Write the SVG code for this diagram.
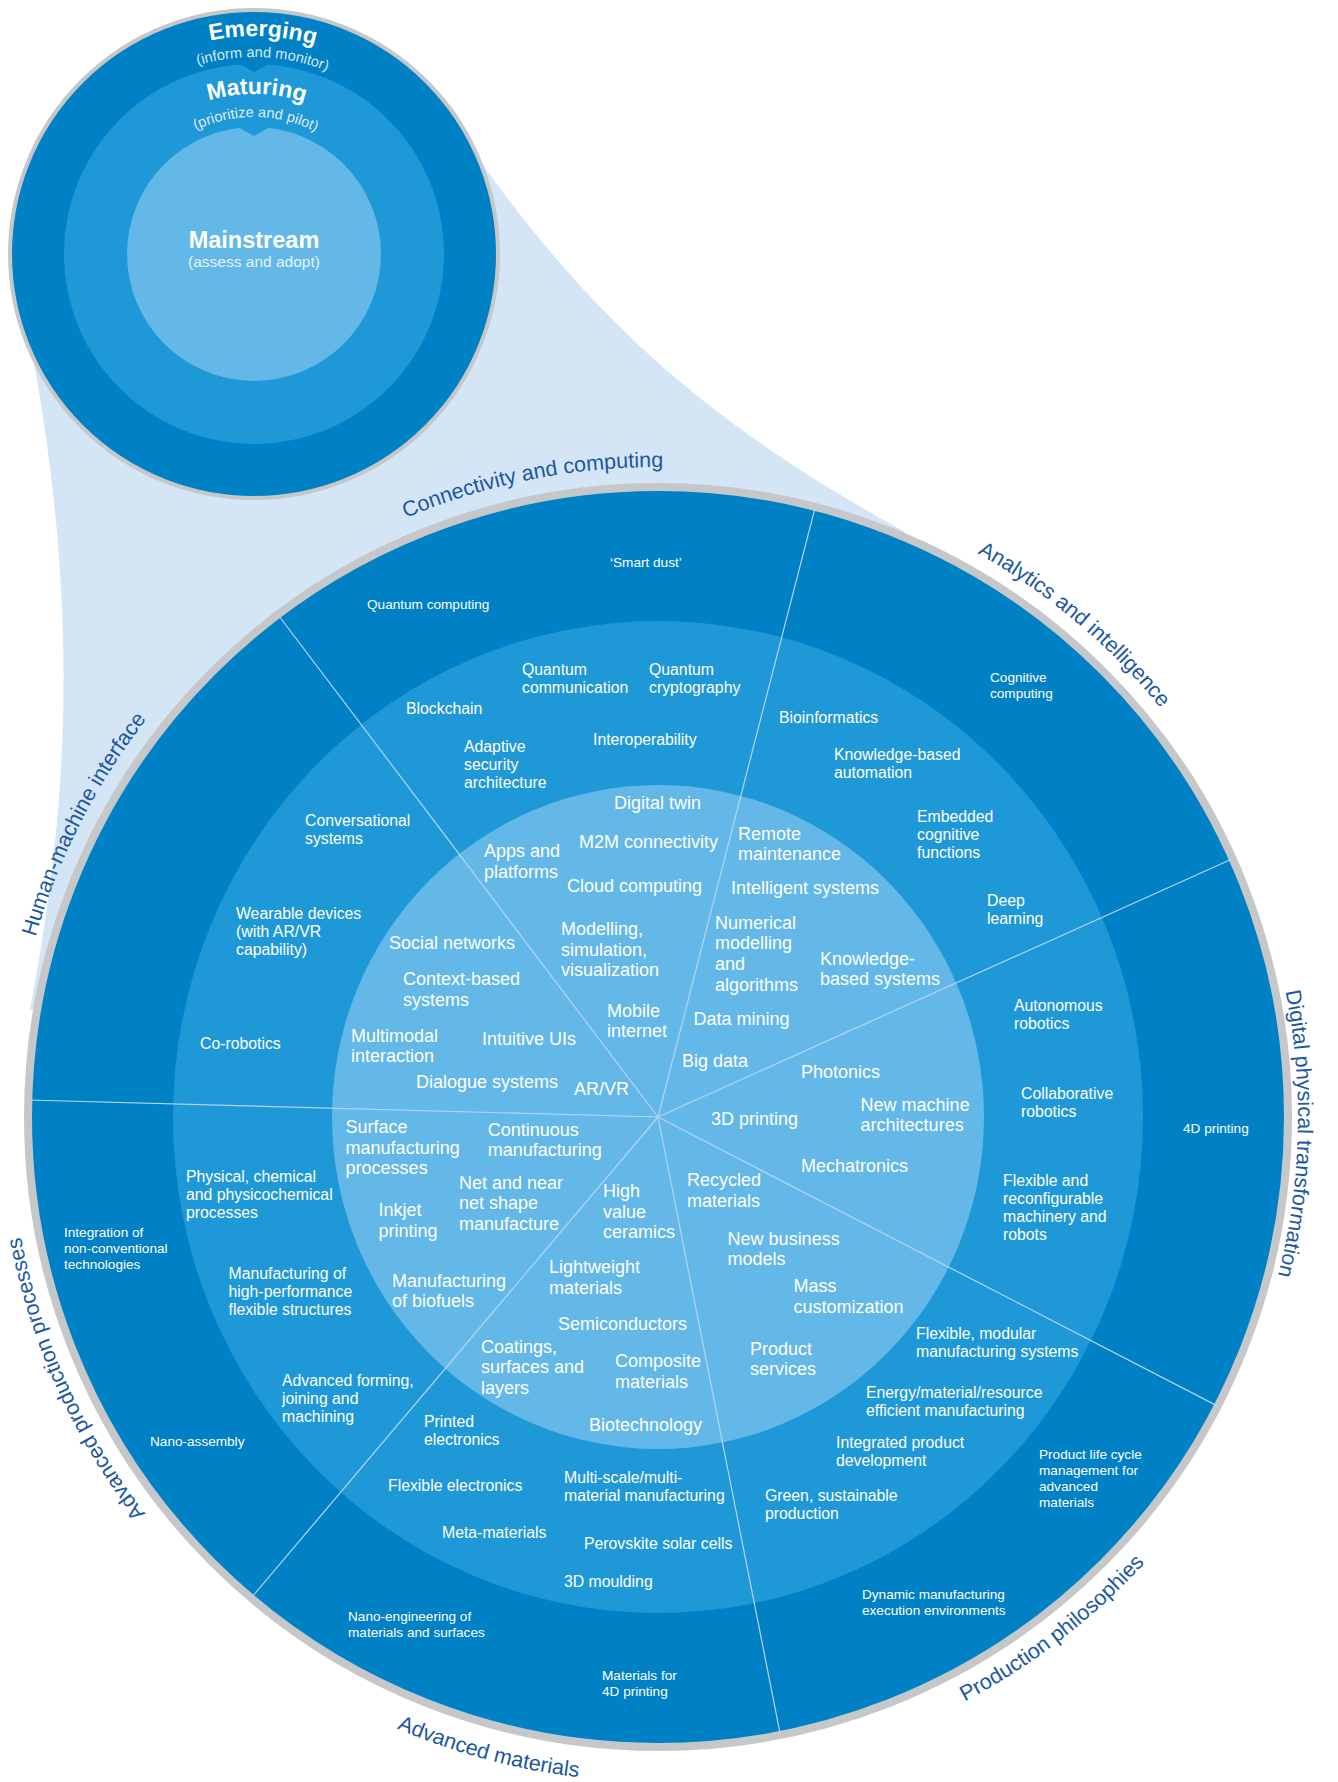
<svg xmlns="http://www.w3.org/2000/svg" xmlns:xlink="http://www.w3.org/1999/xlink" width="1338" height="1782" viewBox="0 0 1338 1782">
<style>
text{font-family:"Liberation Sans",Arial,sans-serif;fill:#fff}
.o{font-size:13.6px}
.m{font-size:15.8px}
.i{font-size:18px}
.lbl{font-size:21.5px;fill:#1b57a2}
.hd{font-size:23px;font-weight:bold}
.sub{font-size:14.6px;fill-opacity:0.85}
.div{stroke:#b4d5ef;stroke-width:1.2;fill:none}
</style>
<defs>
<path id="pConn" d="M15.7,1017.5 A650,650 0 0 1 1214,780.3"/>
<path id="pAna" d="M336,554.7 A648,648 0 0 1 1266.1,1340.8"/>
<path id="pDig" d="M892.5,521.6 A640,640 0 0 1 861,1724"/>
<path id="pProd" d="M304.4,1674.3 A660,660 0 0 0 1287.1,917.4"/>
<path id="pMat" d="M-4.5,1175 A665,665 0 0 0 1202.7,1498.4"/>
<path id="pApp" d="M705.5,1763.3 A648,648 0 0 1 206.2,652.4"/>
<path id="pHmi" d="M184.1,1558.9 A648,648 0 0 1 737,473.8"/>
<path id="pEm" d="M36,254 A218,218 0 0 1 472,254"/>
<path id="pEmS" d="M57,254 A197,197 0 0 1 451,254"/>
<path id="pMa" d="M94,254 A160,160 0 0 1 414,254"/>
<path id="pMaS" d="M117,254 A137,137 0 0 1 391,254"/>
</defs>

<g id="funnel">
<path d="M478,158 C600,330 720,430 905,532 L658,1117 L30,1010 C70,800 80,600 28,330 Z" fill="#d4e5f5"/>
</g>

<g id="radar">
<circle cx="658" cy="1117" r="630" fill="#0080c5" stroke="#c6c7c9" stroke-width="8"/>
<ellipse cx="658" cy="1117" rx="485" ry="496" fill="#1f98d7"/>
<ellipse cx="658" cy="1117" rx="326" ry="332" fill="#63b8e8"/>
</g>

<g id="connectors">
<line class="div" x1="658" y1="1117" x2="815.3" y2="507"/>
<line class="div" x1="658" y1="1117" x2="277.9" y2="614.5"/>
<line class="div" x1="658" y1="1117" x2="1232.5" y2="858.7"/>
<line class="div" x1="658" y1="1117" x2="28.2" y2="1100"/>
<line class="div" x1="658" y1="1117" x2="1217.7" y2="1406.1"/>
<line class="div" x1="658" y1="1117" x2="251.2" y2="1598"/>
<line class="div" x1="658" y1="1117" x2="780.4" y2="1735"/>
</g>

<g id="sector-labels">
<text id="lbl-conn" class="lbl"><textPath href="#pConn" xlink:href="#pConn" startOffset="50%" text-anchor="middle">Connectivity and computing</textPath></text>
<text id="lbl-ana" class="lbl"><textPath href="#pAna" xlink:href="#pAna" startOffset="50%" text-anchor="middle">Analytics and intelligence</textPath></text>
<text id="lbl-dig" class="lbl"><textPath href="#pDig" xlink:href="#pDig" startOffset="50%" text-anchor="middle">Digital physical transformation</textPath></text>
<text id="lbl-prod" class="lbl"><textPath href="#pProd" xlink:href="#pProd" startOffset="50%" text-anchor="middle">Production philosophies</textPath></text>
<text id="lbl-mat" class="lbl"><textPath href="#pMat" xlink:href="#pMat" startOffset="50%" text-anchor="middle">Advanced materials</textPath></text>
<text id="lbl-app" class="lbl"><textPath href="#pApp" xlink:href="#pApp" startOffset="50%" text-anchor="middle">Advanced production processes</textPath></text>
<text id="lbl-hmi" class="lbl"><textPath href="#pHmi" xlink:href="#pHmi" startOffset="50%" text-anchor="middle">Human-machine interface</textPath></text>
</g>

<g id="emerging-items">
<g id="n-quantum-computing"><text class="o" x="367" y="609">Quantum computing</text></g>
<g id="n-smart-dust"><text class="o" x="610" y="567">‘Smart dust’</text></g>
<g id="n-cognitive"><text class="o" x="990" y="682">Cognitive<tspan x="990" dy="16">computing</tspan></text></g>
<g id="n-4d-printing"><text class="o" x="1183" y="1133">4D printing</text></g>
<g id="n-plm"><text class="o" x="1039" y="1459">Product life cycle<tspan x="1039" dy="16">management for</tspan><tspan x="1039" dy="16">advanced</tspan><tspan x="1039" dy="16">materials</tspan></text></g>
<g id="n-dynamic"><text class="o" x="862" y="1599">Dynamic manufacturing<tspan x="862" dy="16">execution environments</tspan></text></g>
<g id="n-mat4d"><text class="o" x="602" y="1680">Materials for<tspan x="602" dy="16">4D printing</tspan></text></g>
<g id="n-nano-eng"><text class="o" x="348" y="1621">Nano-engineering of<tspan x="348" dy="16">materials and surfaces</tspan></text></g>
<g id="n-nano-assembly"><text class="o" x="150" y="1446">Nano-assembly</text></g>
<g id="n-integration"><text class="o" x="64" y="1237">Integration of<tspan x="64" dy="16">non-conventional</tspan><tspan x="64" dy="16">technologies</tspan></text></g>
</g>

<g id="maturing-items">
<g id="n-q-comm"><text class="m" x="522" y="675">Quantum<tspan x="522" dy="18.2">communication</tspan></text></g>
<g id="n-q-crypt"><text class="m" x="649" y="675">Quantum<tspan x="649" dy="18.2">cryptography</tspan></text></g>
<g id="n-blockchain"><text class="m" x="406" y="714">Blockchain</text></g>
<g id="n-interop"><text class="m" x="593" y="744.5">Interoperability</text></g>
<g id="n-adaptive"><text class="m" x="464" y="752">Adaptive<tspan x="464" dy="18.2">security</tspan><tspan x="464" dy="18.2">architecture</tspan></text></g>
<g id="n-bioinf"><text class="m" x="779" y="722.5">Bioinformatics</text></g>
<g id="n-kb-auto"><text class="m" x="834" y="759.5">Knowledge-based<tspan x="834" dy="18.2">automation</tspan></text></g>
<g id="n-embedded"><text class="m" x="917" y="821.5">Embedded<tspan x="917" dy="18.2">cognitive</tspan><tspan x="917" dy="18.2">functions</tspan></text></g>
<g id="n-deep"><text class="m" x="987" y="905.5">Deep<tspan x="987" dy="18.2">learning</tspan></text></g>
<g id="n-conversational"><text class="m" x="305" y="825.5">Conversational<tspan x="305" dy="18.2">systems</tspan></text></g>
<g id="n-wearable"><text class="m" x="236" y="919">Wearable devices<tspan x="236" dy="18.2">(with AR/VR</tspan><tspan x="236" dy="18.2">capability)</tspan></text></g>
<g id="n-corobotics"><text class="m" x="200" y="1049">Co-robotics</text></g>
<g id="n-autonomous"><text class="m" x="1014" y="1010.5">Autonomous<tspan x="1014" dy="18.2">robotics</tspan></text></g>
<g id="n-collaborative"><text class="m" x="1021" y="1099">Collaborative<tspan x="1021" dy="18.2">robotics</tspan></text></g>
<g id="n-flex-reconf"><text class="m" x="1003" y="1185.5">Flexible and<tspan x="1003" dy="18.2">reconfigurable</tspan><tspan x="1003" dy="18.2">machinery and</tspan><tspan x="1003" dy="18.2">robots</tspan></text></g>
<g id="n-flex-modular"><text class="m" x="916" y="1339">Flexible, modular<tspan x="916" dy="18.2">manufacturing systems</tspan></text></g>
<g id="n-energy"><text class="m" x="866" y="1398">Energy/material/resource<tspan x="866" dy="18.2">efficient manufacturing</tspan></text></g>
<g id="n-ipd"><text class="m" x="836" y="1448">Integrated product<tspan x="836" dy="18.2">development</tspan></text></g>
<g id="n-green"><text class="m" x="765" y="1500.5">Green, sustainable<tspan x="765" dy="18.2">production</tspan></text></g>
<g id="n-multiscale"><text class="m" x="564" y="1483">Multi-scale/multi-<tspan x="564" dy="18.2">material manufacturing</tspan></text></g>
<g id="n-perovskite"><text class="m" x="584" y="1549">Perovskite solar cells</text></g>
<g id="n-moulding"><text class="m" x="564" y="1587">3D moulding</text></g>
<g id="n-meta"><text class="m" x="442" y="1538">Meta-materials</text></g>
<g id="n-flex-elec"><text class="m" x="388" y="1491">Flexible electronics</text></g>
<g id="n-printed"><text class="m" x="424" y="1426.5">Printed<tspan x="424" dy="18.2">electronics</tspan></text></g>
<g id="n-forming"><text class="m" x="282" y="1385.5">Advanced forming,<tspan x="282" dy="18.2">joining and</tspan><tspan x="282" dy="18.2">machining</tspan></text></g>
<g id="n-hpfs"><text class="m" x="228.5" y="1279">Manufacturing of<tspan x="228.5" dy="18.2">high-performance</tspan><tspan x="228.5" dy="18.2">flexible structures</tspan></text></g>
<g id="n-physical"><text class="m" x="186" y="1182">Physical, chemical<tspan x="186" dy="18.2">and physicochemical</tspan><tspan x="186" dy="18.2">processes</tspan></text></g>
</g>

<g id="mainstream-items">
<g id="n-digital-twin"><text class="i" x="614" y="809">Digital twin</text></g>
<g id="n-apps"><text class="i" x="484" y="857">Apps and<tspan x="484" dy="20.5">platforms</tspan></text></g>
<g id="n-m2m"><text class="i" x="579" y="847.5">M2M connectivity</text></g>
<g id="n-cloud"><text class="i" x="567" y="891.5">Cloud computing</text></g>
<g id="n-remote"><text class="i" x="738" y="839.8">Remote<tspan x="738" dy="20.5">maintenance</tspan></text></g>
<g id="n-intelligent"><text class="i" x="731" y="894.3">Intelligent systems</text></g>
<g id="n-numerical"><text class="i" x="715" y="928.5">Numerical<tspan x="715" dy="20.8">modelling</tspan><tspan x="715" dy="20.8">and</tspan><tspan x="715" dy="20.8">algorithms</tspan></text></g>
<g id="n-kb-systems"><text class="i" x="820" y="964.8">Knowledge-<tspan x="820" dy="20.5">based systems</tspan></text></g>
<g id="n-modelling"><text class="i" x="561" y="935">Modelling,<tspan x="561" dy="20.5">simulation,</tspan><tspan x="561" dy="20.5">visualization</tspan></text></g>
<g id="n-social"><text class="i" x="389" y="949">Social networks</text></g>
<g id="n-context"><text class="i" x="403" y="985">Context-based<tspan x="403" dy="20.5">systems</tspan></text></g>
<g id="n-mobile"><text class="i" x="607" y="1016.5">Mobile<tspan x="607" dy="20.5">internet</tspan></text></g>
<g id="n-multimodal"><text class="i" x="351" y="1041.5">Multimodal<tspan x="351" dy="20.5">interaction</tspan></text></g>
<g id="n-intuitive"><text class="i" x="482" y="1045">Intuitive UIs</text></g>
<g id="n-dialogue"><text class="i" x="416" y="1088.3">Dialogue systems</text></g>
<g id="n-arvr"><text class="i" x="574" y="1095">AR/VR</text></g>
<g id="n-data-mining"><text class="i" x="693.5" y="1025">Data mining</text></g>
<g id="n-big-data"><text class="i" x="682" y="1067">Big data</text></g>
<g id="n-photonics"><text class="i" x="801" y="1077.5">Photonics</text></g>
<g id="n-3d-printing"><text class="i" x="711" y="1124.5">3D printing</text></g>
<g id="n-new-machine"><text class="i" x="860.6" y="1110.5">New machine<tspan x="860.6" dy="20.5">architectures</tspan></text></g>
<g id="n-mechatronics"><text class="i" x="801" y="1171.7">Mechatronics</text></g>
<g id="n-surface"><text class="i" x="345.6" y="1133">Surface<tspan x="345.6" dy="20.5">manufacturing</tspan><tspan x="345.6" dy="20.5">processes</tspan></text></g>
<g id="n-continuous"><text class="i" x="487.7" y="1135.5">Continuous<tspan x="487.7" dy="20.5">manufacturing</tspan></text></g>
<g id="n-net"><text class="i" x="459" y="1188.7">Net and near<tspan x="459" dy="20.5">net shape</tspan><tspan x="459" dy="20.5">manufacture</tspan></text></g>
<g id="n-inkjet"><text class="i" x="378.5" y="1216">Inkjet<tspan x="378.5" dy="20.5">printing</tspan></text></g>
<g id="n-high"><text class="i" x="603" y="1197">High<tspan x="603" dy="20.5">value</tspan><tspan x="603" dy="20.5">ceramics</tspan></text></g>
<g id="n-recycled"><text class="i" x="687" y="1186">Recycled<tspan x="687" dy="20.5">materials</tspan></text></g>
<g id="n-new-business"><text class="i" x="727.6" y="1244.5">New business<tspan x="727.6" dy="20.5">models</tspan></text></g>
<g id="n-mass"><text class="i" x="793.5" y="1292">Mass<tspan x="793.5" dy="20.5">customization</tspan></text></g>
<g id="n-lightweight"><text class="i" x="549" y="1273">Lightweight<tspan x="549" dy="20.5">materials</tspan></text></g>
<g id="n-biofuels"><text class="i" x="392" y="1286.5">Manufacturing<tspan x="392" dy="20.5">of biofuels</tspan></text></g>
<g id="n-semiconductors"><text class="i" x="558" y="1329.7">Semiconductors</text></g>
<g id="n-coatings"><text class="i" x="481" y="1352.5">Coatings,<tspan x="481" dy="20.5">surfaces and</tspan><tspan x="481" dy="20.5">layers</tspan></text></g>
<g id="n-composite"><text class="i" x="615" y="1367">Composite<tspan x="615" dy="20.5">materials</tspan></text></g>
<g id="n-product-services"><text class="i" x="750" y="1354.8">Product<tspan x="750" dy="20.5">services</tspan></text></g>
<g id="n-biotech"><text class="i" x="589" y="1431">Biotechnology</text></g>
</g>

<g id="legend">
<circle cx="254" cy="254" r="244" fill="#0080c5" stroke="#c6c7c9" stroke-width="4"/>
<circle cx="254" cy="254" r="190" fill="#1f98d7"/>
<polygon points="236,62 272,62 254,72" fill="#0080c5"/>
<circle cx="254" cy="254" r="127" fill="#63b8e8"/>
<polygon points="236,126 272,126 254,136" fill="#1f98d7"/>
<g id="legend-emerging">
<text class="hd"><textPath href="#pEm" xlink:href="#pEm" startOffset="351" text-anchor="middle">Emerging</textPath></text>
<text class="sub"><textPath href="#pEmS" xlink:href="#pEmS" startOffset="318" text-anchor="middle">(inform and monitor)</textPath></text>
</g>
<g id="legend-maturing">
<text class="hd"><textPath href="#pMa" xlink:href="#pMa" startOffset="254" text-anchor="middle">Maturing</textPath></text>
<text class="sub"><textPath href="#pMaS" xlink:href="#pMaS" startOffset="217" text-anchor="middle">(prioritize and pilot)</textPath></text>
</g>
<g id="legend-mainstream">
<text x="254" y="248" text-anchor="middle" style="font-size:23.5px;font-weight:bold">Mainstream</text>
<text x="254" y="267" text-anchor="middle" style="font-size:15.5px;fill-opacity:0.85">(assess and adopt)</text>
</g>
</g>
</svg>
